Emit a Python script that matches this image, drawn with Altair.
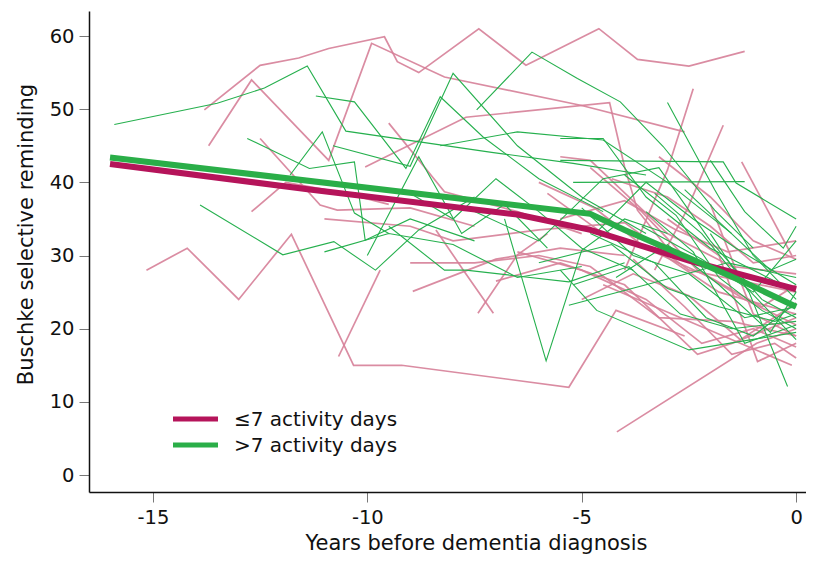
import altair as alt
import pandas as pd

# ---------------- data ----------------
# individual trajectories, <=7 activity days: (years before diagnosis, score)
low_lines = [
    [(-13.8, 49.9), (-12.5, 56.0), (-11.6, 57.0), (-10.9, 58.3), (-9.6, 59.9), (-9.3, 56.5), (-8.8, 55.0),
     (-7.4, 61.0), (-6.3, 56.0), (-4.6, 61.0), (-3.7, 56.8), (-2.5, 55.9), (-1.2, 57.9)],
    [(-13.7, 45.0), (-12.7, 54.0), (-10.9, 43.0), (-9.9, 59.0), (-8.2, 54.4), (-5.0, 50.5), (-2.6, 46.9)],
    [(-10.05, 42.1), (-7.7, 48.9), (-4.35, 50.9), (-4.0, 42.1), (-3.7, 36.2), (-3.0, 31.0)],
    [(-4.0, 28.0), (-3.0, 41.7), (-2.4, 52.8)],
    [(-3.3, 28.0), (-2.55, 36.2), (-1.7, 47.8)],
    [(-1.27, 42.8), (-0.1, 30.0)],
    [(-15.15, 28.0), (-14.2, 31.0), (-13.0, 24.0), (-11.77, 32.9), (-10.32, 15.0), (-9.2, 15.0),
     (-5.3, 12.0), (-4.2, 22.5), (-2.6, 19.0)],
    [(-10.67, 16.2), (-9.7, 28.0)],
    [(-8.94, 25.1), (-7.0, 29.5), (-5.5, 31.0), (-4.0, 30.0)],
    [(-7.42, 22.1), (-6.5, 30.1), (-5.8, 33.0)],
    [(-8.4, 33.5), (-7.76, 28.0), (-7.06, 22.1)],
    [(-4.18, 5.9), (-0.92, 18.0), (0.0, 20.0)],
    [(-4.5, 26.0), (-2.94, 22.1), (-0.1, 15.0)],
    [(-5.5, 43.5), (-4.8, 43.0), (-3.0, 33.0), (-1.5, 28.5), (0.0, 27.5)],
    [(-9.5, 48.1), (-8.2, 38.7), (-6.5, 36.0), (-5.0, 33.0)],
    [(-12.5, 46.0), (-11.1, 36.9), (-10.7, 36.2), (-9.0, 36.5), (-7.5, 34.0)],
    [(-12.7, 36.0), (-11.9, 40.0), (-10.5, 38.5), (-9.5, 37.0)],
    [(-5.8, 38.5), (-4.5, 33.0), (-3.2, 30.5), (-1.8, 25.0), (0.0, 22.0)],
    [(-4.8, 42.0), (-3.6, 36.0), (-2.3, 28.0), (-1.2, 24.0), (0.0, 20.5)],
    [(-6.5, 30.5), (-5.0, 28.0), (-3.5, 24.0), (-2.2, 18.0), (-1.0, 20.0), (0.0, 17.5)],
    [(-3.8, 29.5), (-2.6, 23.0), (-1.5, 16.5), (-0.5, 18.0), (0.0, 16.0)],
    [(-5.5, 35.0), (-4.0, 37.5), (-2.8, 33.5), (-1.6, 30.5), (0.0, 32.0)],
    [(-4.3, 40.5), (-3.0, 38.0), (-2.0, 34.0), (-1.0, 29.0), (0.0, 30.0)],
    [(-9.0, 29.0), (-7.5, 29.0), (-6.0, 30.0), (-4.8, 28.5), (-3.2, 21.5), (-1.5, 21.0), (0.0, 19.0)],
    [(-11.0, 35.0), (-9.0, 34.0), (-8.0, 32.0), (-6.0, 33.5), (-4.0, 34.5), (-2.5, 28.0), (0.0, 25.0)],
    [(-7.0, 26.5), (-5.5, 29.0), (-4.0, 26.0), (-2.3, 16.5), (-1.5, 18.0), (0.0, 21.5)],
    [(-2.0, 37.0), (-1.0, 22.0), (0.0, 19.0)],
    [(-3.2, 43.5), (-2.0, 38.0), (-1.0, 32.0), (0.0, 29.5)],
    [(-6.0, 40.0), (-4.7, 36.5), (-3.5, 31.0), (-2.0, 27.0), (-0.8, 23.0), (0.0, 26.0)],
    [(-5.0, 24.0), (-3.8, 27.5), (-2.5, 24.5), (-1.3, 18.5), (0.0, 23.5)],
    [(-3.0, 35.0), (-1.8, 30.0), (-0.9, 15.5), (0.0, 18.0)],
]

# individual trajectories, >7 activity days
high_lines = [
    [(-15.9, 47.9), (-13.5, 50.8), (-12.4, 52.9), (-11.4, 55.9), (-10.5, 47.0), (-7.1, 44.1), (-5.2, 42.6), (-3.5, 41.0)],
    [(-11.2, 51.8), (-10.3, 51.0), (-9.1, 41.9), (-8.3, 51.7), (-7.3, 46.2), (-6.0, 40.5), (-4.5, 36.0)],
    [(-10.8, 45.0), (-9.0, 42.2), (-8.0, 54.9), (-6.5, 45.0), (-5.0, 38.0), (-3.5, 33.0)],
    [(-12.8, 46.0), (-11.35, 41.9), (-10.3, 42.8), (-10.05, 32.1), (-9.0, 35.0), (-7.5, 32.0)],
    [(-11.8, 41.0), (-11.05, 46.9), (-10.3, 35.8), (-9.5, 33.0)],
    [(-13.9, 36.9), (-11.97, 30.1), (-10.78, 31.9), (-9.81, 28.0), (-8.8, 33.5), (-7.5, 38.0)],
    [(-7.45, 49.9), (-6.16, 57.8), (-5.1, 54.2), (-4.1, 51.0), (-3.1, 44.9), (-1.9, 36.2), (-1.0, 31.0)],
    [(-3.0, 50.9), (-1.9, 39.0), (-1.0, 30.0), (0.0, 24.0)],
    [(-5.5, 46.0), (-4.5, 46.0), (-3.5, 38.0), (-2.0, 31.0), (0.0, 25.0)],
    [(-5.5, 43.0), (-1.7, 42.8), (-1.4, 39.9), (0.0, 35.0)],
    [(-5.2, 40.0), (-1.2, 40.1)],
    [(-6.8, 35.0), (-5.83, 15.6), (-5.0, 30.7), (-4.0, 35.0), (-3.0, 33.0)],
    [(-5.5, 28.0), (-4.65, 22.5), (-2.5, 17.1), (0.0, 19.5)],
    [(-5.3, 23.2), (-3.5, 26.0), (-1.6, 29.0), (0.0, 27.0)],
    [(-2.0, 33.0), (-1.1, 25.0), (-0.2, 12.1)],
    [(-8.3, 45.0), (-6.5, 46.9), (-4.5, 45.8), (-3.0, 40.0), (-1.5, 33.0)],
    [(-9.5, 34.0), (-8.2, 28.0), (-7.7, 28.0), (-5.3, 26.4), (-4.0, 29.0)],
    [(-9.0, 38.5), (-8.0, 35.0), (-7.0, 40.5), (-6.0, 36.0), (-5.0, 31.0), (-3.8, 28.0)],
    [(-10.0, 30.0), (-8.8, 43.5), (-7.8, 33.0), (-6.8, 37.0), (-5.8, 31.0)],
    [(-11.0, 30.5), (-9.5, 33.0), (-8.0, 31.5), (-6.5, 27.0), (-5.0, 28.5)],
    [(-4.0, 41.0), (-2.8, 35.5), (-1.8, 27.0), (-0.8, 22.5), (0.0, 20.0)],
    [(-5.0, 36.5), (-3.8, 30.0), (-2.5, 27.5), (-1.2, 21.5), (0.0, 23.0)],
    [(-3.3, 38.5), (-2.2, 33.0), (-1.3, 26.5), (0.0, 18.5)],
    [(-6.0, 29.0), (-4.3, 31.5), (-3.0, 25.5), (-1.8, 23.0), (-0.5, 21.0), (0.0, 22.0)],
    [(-4.6, 33.5), (-3.5, 40.0), (-2.4, 35.0), (-1.4, 31.0), (0.0, 26.0)],
    [(-2.6, 39.0), (-1.6, 33.5), (-0.6, 28.0), (0.0, 29.5)],
    [(-5.2, 26.0), (-3.9, 28.5), (-2.7, 22.0), (-1.5, 20.0), (0.0, 21.0)],
    [(-3.6, 34.0), (-2.2, 29.5), (-1.0, 25.0), (0.0, 32.0)],
    [(-7.5, 36.0), (-6.0, 32.0), (-4.5, 40.5), (-3.2, 42.0), (-2.0, 32.0), (-0.8, 24.0), (0.0, 21.5)],
    [(-2.0, 43.0), (-1.2, 36.0), (-0.3, 31.0), (0.0, 34.0)],
    [(-4.2, 27.0), (-3.0, 31.5), (-1.8, 26.0), (-0.6, 19.5), (0.0, 25.0)],
    [(-3.5, 36.0), (-2.4, 30.5), (-1.2, 18.0), (0.0, 20.5)],
    [(-4.8, 33.0), (-3.3, 29.0), (-2.1, 21.5), (-1.0, 19.0), (0.0, 23.5)],
]

# mean trajectories
mean_low_years = [-16.0, -11.3, -6.5, -4.8, -2.5, 0.0]
mean_low_score = [42.5, 39.0, 35.6, 33.5, 29.3, 25.4]
mean_high_years = [-16.0, -4.8, -4.0, -2.9, -1.3, 0.0]
mean_high_score = [43.4, 35.7, 33.5, 30.7, 26.6, 23.0]

legend_labels = ["\u22647 activity days", ">7 activity days"]
x_ticks = [-15, -10, -5, 0]
y_ticks = [0, 10, 20, 30, 40, 50, 60]

# ---------------- styling ----------------
PINK_THIN = "#d67f98"
GREEN_THIN = "#26b04e"
PINK_THICK = "#b5145a"
GREEN_THICK = "#2aae48"
FONT = "DejaVu Sans"


def to_frame(lines, prefix):
    recs = []
    for i, line in enumerate(lines):
        for j, (x, y) in enumerate(line):
            recs.append({"id": f"{prefix}{i}", "step": j, "years": x, "score": y})
    return pd.DataFrame(recs)


df_low = to_frame(low_lines, "l")
df_high = to_frame(high_lines, "h")
df_mean_low = pd.DataFrame({"years": mean_low_years, "score": mean_low_score, "step": range(len(mean_low_years))})
df_mean_high = pd.DataFrame({"years": mean_high_years, "score": mean_high_score, "step": range(len(mean_high_years))})

x_scale = alt.Scale(domain=[-16.49, 0.23], nice=False, zero=False)
y_scale = alt.Scale(domain=[-2.32, 63.42], nice=False, zero=False)

x_axis = alt.Axis(
    values=x_ticks,
    labelExpr="datum.value == 0 ? '0' : '-' + abs(datum.value)",
    title="Years before dementia diagnosis",
    titleX=387, titleY=57, titleAlign="center", titleBaseline="alphabetic",
    titleFont=FONT, titleFontSize=21, titleFontWeight="normal", titleColor="#111",
    labelFont=FONT, labelFontSize=19.5, labelColor="#111", labelPadding=6,
    tickSize=10, tickColor="#777", tickWidth=1,
    domainColor="#111", domainWidth=1.5, grid=False,
)
y_axis = alt.Axis(
    values=y_ticks,
    title="Buschke selective reminding",
    titleX=-57, titleY=223, titleAngle=270, titleAlign="center", titleBaseline="alphabetic",
    titleFont=FONT, titleFontSize=21, titleFontWeight="normal", titleColor="#111",
    labelFont=FONT, labelFontSize=19.5, labelColor="#111", labelPadding=5,
    tickSize=10, tickColor="#777", tickWidth=1,
    domainColor="#111", domainWidth=1.5, grid=False,
)

X = alt.X("years:Q", scale=x_scale, axis=x_axis)
Y = alt.Y("score:Q", scale=y_scale, axis=y_axis)

thin_low = alt.Chart(df_low).mark_line(color=PINK_THIN, strokeWidth=1.7, opacity=0.9, clip=True).encode(
    x=X, y=Y, detail="id:N", order="step:Q")
thin_high = alt.Chart(df_high).mark_line(color=GREEN_THIN, strokeWidth=1.1, clip=True).encode(
    x=X, y=Y, detail="id:N", order="step:Q")
thick_low = alt.Chart(df_mean_low).mark_line(color=PINK_THICK, strokeWidth=6, clip=True).encode(
    x=X, y=Y, order="step:Q")
thick_high = alt.Chart(df_mean_high).mark_line(color=GREEN_THICK, strokeWidth=6, clip=True).encode(
    x=X, y=Y, order="step:Q")

one = pd.DataFrame({"k": [0]})
legend_layers = []
for label, color, ly in zip(legend_labels, [PINK_THICK, GREEN_THICK], [408, 434]):
    legend_layers.append(
        alt.Chart(one).mark_rule(color=color, strokeWidth=5).encode(
            x=alt.value(84), x2=alt.value(129), y=alt.value(ly)))
    legend_layers.append(
        alt.Chart(one).mark_text(text=label, align="left", baseline="alphabetic", font=FONT,
                                 fontSize=20, color="#111").encode(
            x=alt.value(145), y=alt.value(ly + 7)))

chart = alt.layer(thin_low, thin_high, thick_low, thick_high, *legend_layers).properties(
    width=717, height=481,
    autosize=alt.AutoSizeParams(type="none"),
    padding={"left": 81, "top": 3, "right": 0, "bottom": 64},
    background="white",
).configure_view(stroke=None)

chart.save("out.html", embed_options={"renderer": "svg", "actions": False})
